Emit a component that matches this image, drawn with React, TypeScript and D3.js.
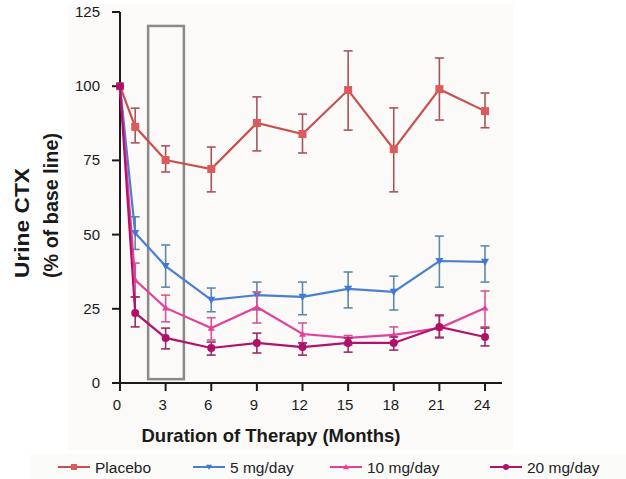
import React from "react";
import * as d3 from "d3";

const months = [0, 1, 3, 6, 9, 12, 15, 18, 21, 24];
const xTicks = [0, 3, 6, 9, 12, 15, 18, 21, 24];
const yTicks = [0, 25, 50, 75, 100, 125];

const placebo = [100, 86.3, 75.1, 72.1, 87.6, 83.9, 98.7, 78.8, 99.0, 91.6];
const placeboLo = [100, 80.9, 71.1, 64.4, 78.2, 77.5, 85.2, 64.4, 88.6, 86.0];
const placeboHi = [100, 92.6, 79.9, 79.5, 96.4, 90.6, 111.9, 92.7, 109.5, 97.7];

const mg5 = [100, 50.5, 39.4, 28.0, 29.6, 29.0, 31.7, 30.7, 41.1, 40.8];
const mg5Lo = [100, 45.0, 32.3, 24.0, 24.6, 23.0, 25.3, 24.6, 32.3, 34.0];
const mg5Hi = [100, 56.0, 46.5, 32.0, 34.0, 34.0, 37.4, 36.0, 49.5, 46.2];

const mg10 = [100, 34.7, 25.3, 18.5, 25.6, 16.5, 15.2, 16.2, 18.5, 25.3];
const mg10Lo = [100, 29.0, 20.6, 14.5, 20.2, 13.5, 12.8, 13.5, 15.5, 18.9];
const mg10Hi = [100, 40.4, 29.6, 22.0, 30.7, 20.2, 16.0, 18.9, 22.6, 31.0];

const mg20 = [100, 23.6, 15.2, 11.8, 13.5, 12.1, 13.5, 13.5, 18.9, 15.5];
const mg20Lo = [100, 18.9, 11.5, 9.4, 10.1, 9.4, 10.4, 11.1, 15.2, 12.5];
const mg20Hi = [100, 29.0, 18.5, 13.8, 16.8, 13.5, 15.2, 15.5, 22.9, 18.5];

const seriesNames = ["Placebo", "5 mg/day", "10 mg/day", "20 mg/day"];

// highlight box (in data units)
const boxMonths = [1.85, 4.2];
const boxValues = [1.3, 120.3];

type Series = {
  name: string;
  values: number[];
  lo: number[];
  hi: number[];
  line: string;
  marker: string;
  err: string;
  shape: "square" | "triDown" | "triUp" | "circle";
};

const series: Series[] = [
  { name: seriesNames[0], values: placebo, lo: placeboLo, hi: placeboHi, line: "#c8504f", marker: "#dc5a5a", err: "#a8555a", shape: "square" },
  { name: seriesNames[1], values: mg5, lo: mg5Lo, hi: mg5Hi, line: "#4a7fd0", marker: "#3f78d8", err: "#5d8aa8", shape: "triDown" },
  { name: seriesNames[2], values: mg10, lo: mg10Lo, hi: mg10Hi, line: "#e2419a", marker: "#e8409a", err: "#d05a95", shape: "triUp" },
  { name: seriesNames[3], values: mg20, lo: mg20Lo, hi: mg20Hi, line: "#b3126c", marker: "#b01068", err: "#9a2a6a", shape: "circle" },
];

const x = d3.scaleLinear().domain([0, 24]).range([120, 485]);
const y = d3.scaleLinear().domain([0, 125]).range([383, 12]);

function Marker({ cx, cy, shape, color, size }: { cx: number; cy: number; shape: string; color: string; size: number }) {
  const s = size;
  if (shape === "square") return <rect x={cx - s / 2} y={cy - s / 2} width={s} height={s} fill={color} />;
  if (shape === "circle") return <circle cx={cx} cy={cy} r={s / 2} fill={color} />;
  if (shape === "triDown")
    return <path d={`M${cx - s / 2},${cy - s / 2.6}L${cx + s / 2},${cy - s / 2.6}L${cx},${cy + s / 2}Z`} fill={color} />;
  return <path d={`M${cx - s / 2},${cy + s / 2.6}L${cx + s / 2},${cy + s / 2.6}L${cx},${cy - s / 2}Z`} fill={color} />;
}

export default function App() {
  const line = d3
    .line<number>()
    .x((_, i) => x(months[i]))
    .y((d) => y(d));

  const legendX = [58, 193, 330, 490];

  return (
    <svg width={626} height={479} style={{ position: "absolute", left: 0, top: 0, fontFamily: "Liberation Sans, Arial, sans-serif" }}>
      <rect x={0} y={0} width={626} height={479} fill="#ffffff" />
      <rect x={68} y={4} width={445} height={446} fill="#fbfaf8" />
      <rect x={30} y={454} width={596} height={25} fill="#fbfbfa" />

      {/* highlight box */}
      <rect
        x={x(boxMonths[0])}
        y={y(boxValues[1])}
        width={x(boxMonths[1]) - x(boxMonths[0])}
        height={y(boxValues[0]) - y(boxValues[1])}
        fill="none"
        stroke="#8a8a8a"
        strokeWidth={2.5}
      />

      {/* axes */}
      <line x1={120} y1={y(125)} x2={120} y2={y(0)} stroke="#1a1a1a" strokeWidth={2} />
      <line x1={120} y1={y(0)} x2={502} y2={y(0)} stroke="#1a1a1a" strokeWidth={2} />
      {yTicks.map((t) => (
        <g key={"y" + t}>
          <line x1={112} x2={120} y1={y(t)} y2={y(t)} stroke="#1a1a1a" strokeWidth={2} />
          <text x={100} y={y(t) + 5} textAnchor="end" fontSize={15} fill="#1a1a1a">
            {t}
          </text>
        </g>
      ))}
      {xTicks.map((t) => (
        <g key={"x" + t}>
          <line x1={x(t)} x2={x(t)} y1={y(0)} y2={y(0) + 8} stroke="#1a1a1a" strokeWidth={2} />
          <text x={x(t) - 3} y={410} textAnchor="middle" fontSize={15} fill="#1a1a1a">
            {t}
          </text>
        </g>
      ))}

      {/* series */}
      {series.map((s) => (
        <g key={s.name}>
          {s.values.map((v, i) =>
            s.hi[i] - s.lo[i] > 0.5 ? (
              <g key={i} stroke={s.err} strokeWidth={1.6}>
                <line x1={x(months[i])} x2={x(months[i])} y1={y(s.hi[i])} y2={y(s.lo[i])} />
                <line x1={x(months[i]) - 4.5} x2={x(months[i]) + 4.5} y1={y(s.hi[i])} y2={y(s.hi[i])} />
                <line x1={x(months[i]) - 4.5} x2={x(months[i]) + 4.5} y1={y(s.lo[i])} y2={y(s.lo[i])} />
              </g>
            ) : null
          )}
          <path d={line(s.values) || ""} fill="none" stroke={s.line} strokeWidth={2.2} />
          {s.values.map((v, i) => (
            <Marker key={i} cx={x(months[i])} cy={y(v)} shape={s.shape} color={s.marker} size={s.shape === "triUp" ? 7 : 8} />
          ))}
        </g>
      ))}

      {/* axis titles */}
      <text x={271} y={442} textAnchor="middle" fontSize={18.5} fontWeight="bold" fill="#1a1a1a">
        Duration of Therapy (Months)
      </text>
      <text transform="translate(29,278) rotate(-90)" fontSize={20} fontWeight="bold" fill="#1a1a1a" textLength={110} lengthAdjust="spacingAndGlyphs">
        Urine CTX
      </text>
      <text transform="translate(58,278) rotate(-90)" fontSize={20} fontWeight="bold" fill="#1a1a1a" textLength={145} lengthAdjust="spacingAndGlyphs">
        (% of base line)
      </text>

      {/* legend */}
      {series.map((s, i) => (
        <g key={"lg" + s.name}>
          <line x1={legendX[i]} x2={legendX[i] + 32} y1={467} y2={467} stroke={s.line} strokeWidth={2} />
          <Marker cx={legendX[i] + 16} cy={467} shape={s.shape} color={s.marker} size={6} />
          <text x={legendX[i] + 37} y={473} fontSize={15.5} fill="#222">
            {s.name}
          </text>
        </g>
      ))}
    </svg>
  );
}
